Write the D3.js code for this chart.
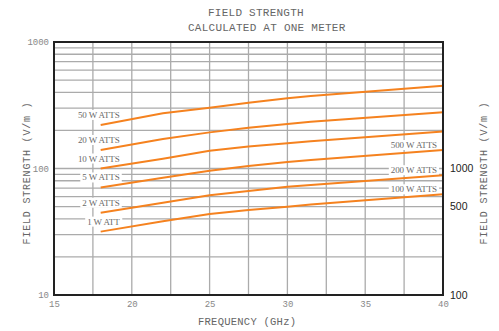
<!DOCTYPE html>
<html>
<head>
<meta charset="utf-8">
<script src="https://cdn.jsdelivr.net/npm/d3@7/dist/d3.min.js"></script>
<style>
  html, body { margin: 0; padding: 0; background: #fff; }
  svg { display: block; }
</style>
</head>
<body>
<svg id="chart" width="499" height="331"></svg>
<script>
// ---------- data ----------
const freqs = [18, 22, 25, 27.5, 30, 31.5, 40];
const watts50 = [221, 273, 302, 331, 359, 374, 451];
const watts20 = [140, 171, 193, 210, 225, 234, 278];
const watts10 = [100, 119.5, 138, 149, 158, 164, 196];
const watts5  = [70.8, 84.6, 96, 104.7, 112.5, 116.7, 140];
const watts2  = [44.7, 53.7, 61.4, 66.4, 71.8, 74.1, 88.5];
const watts1  = [31.7, 38.3, 43.7, 47, 49.9, 51.9, 62.5];
const seriesValues = [watts50, watts20, watts10, watts5, watts2, watts1];
const leftLabels = ["50 W ATTS", "20 W ATTS", "10 W ATTS", "5 W ATTS", "2 W ATTS", "1 W ATT"];
const rightLabels = ["500 W ATTS", "200 W ATTS", "100 W ATTS"]; // for 5 W, 2 W, 1 W curves
const xTicks = [15, 20, 25, 30, 35, 40];
const xGrid = [17.5, 20, 22.5, 25, 27.5, 30, 32.5, 35, 37.5];
const yTicksLeft = [10, 100, 1000];
const yTicksRight = [100, 500, 1000];
const titleLine1 = "FIELD STRENGTH";
const titleLine2 = "CALCULATED AT ONE METER";
const xTitle = "FREQUENCY (GHz)";
const yTitle = "FIELD STRENGTH (V/m )";

// ---------- layout ----------
const L = 54, R = 443, T = 42, B = 295;
const svg = d3.select("#chart");
const x = d3.scaleLinear().domain([15, 40]).range([L, R]);
const y = d3.scaleLog().domain([10, 1000]).range([B, T]);
const y2 = d3.scaleLog().domain([100, 10000]).range([B, T]);

const mono = "'Liberation Mono', 'DejaVu Sans Mono', monospace";
const serif = "'Liberation Serif', 'DejaVu Serif', serif";
const gridColor = "#ababab";
const lineColor = "#f5821f";
const textGrey = "#6a6a6a";

// grid
const yGrid = [];
[10, 100].forEach(dec => { for (let k = 2; k <= 9; k++) yGrid.push(dec * k); });
yGrid.push(100);
const g = svg.append("g");
g.selectAll("line.h").data(yGrid).join("line")
  .attr("x1", L).attr("x2", R)
  .attr("y1", d => y(d)).attr("y2", d => y(d))
  .attr("stroke", gridColor).attr("stroke-width", 1.3);
g.selectAll("line.v").data(xGrid).join("line")
  .attr("y1", T).attr("y2", B)
  .attr("x1", d => x(d)).attr("x2", d => x(d))
  .attr("stroke", gridColor).attr("stroke-width", 1.3);

// series labels (with white backing)
function addLabel(text, px, py, anchor) {
  const t = svg.append("text")
    .attr("x", px).attr("y", py)
    .attr("text-anchor", anchor)
    .attr("dominant-baseline", "central")
    .style("font-family", serif)
    .style("font-size", "9px")
    .style("letter-spacing", "-0.1px")
    .attr("fill", textGrey)
    .text(text);
  const bb = t.node().getBBox();
  svg.insert("rect", () => t.node())
    .attr("x", bb.x - 2).attr("y", bb.y)
    .attr("width", bb.width + 4).attr("height", bb.height)
    .attr("fill", "#fff");
}
seriesValues.forEach((vals, i) => {
  addLabel(leftLabels[i], x(freqs[0]) + 19, y(vals[0]) - 10, "end");
});
rightLabels.forEach((lab, i) => {
  const vals = seriesValues[3 + i];
  addLabel(lab, x(freqs[freqs.length - 1]) - 6, y(vals[vals.length - 1]) - 5, "end");
});

// lines
const line = d3.line().x((d, i) => x(freqs[i])).y(d => y(d));
svg.selectAll("path.s").data(seriesValues).join("path")
  .attr("d", d => line(d))
  .attr("fill", "none")
  .attr("stroke", lineColor)
  .attr("stroke-width", 2);

// frame
svg.append("rect").attr("x", L).attr("y", T).attr("width", R - L).attr("height", B - T)
  .attr("fill", "none").attr("stroke", "#222").attr("stroke-width", 2);

// axes
const axL = svg.append("g").attr("transform", `translate(${L - 1},0)`)
  .call(d3.axisLeft(y).tickValues(yTicksLeft).tickFormat(d3.format("d")).tickSize(0).tickPadding(4));
axL.select(".domain").remove();
axL.selectAll("text").style("font-family", mono).style("font-size", "9px").attr("fill", "#888");

const axB = svg.append("g").attr("transform", `translate(0,${B})`)
  .call(d3.axisBottom(x).tickValues(xTicks).tickFormat(d3.format("d")).tickSize(0).tickPadding(6));
axB.select(".domain").remove();
axB.selectAll("text").style("font-family", mono).style("font-size", "9px").attr("fill", "#888");

const axR = svg.append("g").attr("transform", `translate(${R + 1},0)`)
  .call(d3.axisRight(y2).tickValues(yTicksRight).tickFormat(d3.format("d")).tickSize(0).tickPadding(6));
axR.select(".domain").remove();
axR.selectAll("text").style("font-family", "'Liberation Sans', Arial, sans-serif").style("font-size", "10.5px").attr("fill", "#222");

// titles
svg.append("text").attr("x", 208).attr("y", 16)
  .style("font-family", mono).style("font-size", "11px").style("letter-spacing", "0.25px")
  .attr("fill", "#666").text(titleLine1);
svg.append("text").attr("x", 188).attr("y", 30.5)
  .style("font-family", mono).style("font-size", "11px").style("letter-spacing", "0.25px")
  .attr("fill", "#666").text(titleLine2);
svg.append("text").attr("x", 198).attr("y", 325)
  .style("font-family", mono).style("font-size", "10.5px").style("letter-spacing", "0.25px")
  .attr("fill", "#666").text(xTitle);
[30, 487].forEach(px => {
  svg.append("text")
    .attr("transform", `translate(${px},173) rotate(-90)`)
    .attr("text-anchor", "middle")
    .style("font-family", mono).style("font-size", "10px").style("letter-spacing", "0.8px")
    .attr("fill", "#666").text(yTitle);
});
</script>
</body>
</html>
